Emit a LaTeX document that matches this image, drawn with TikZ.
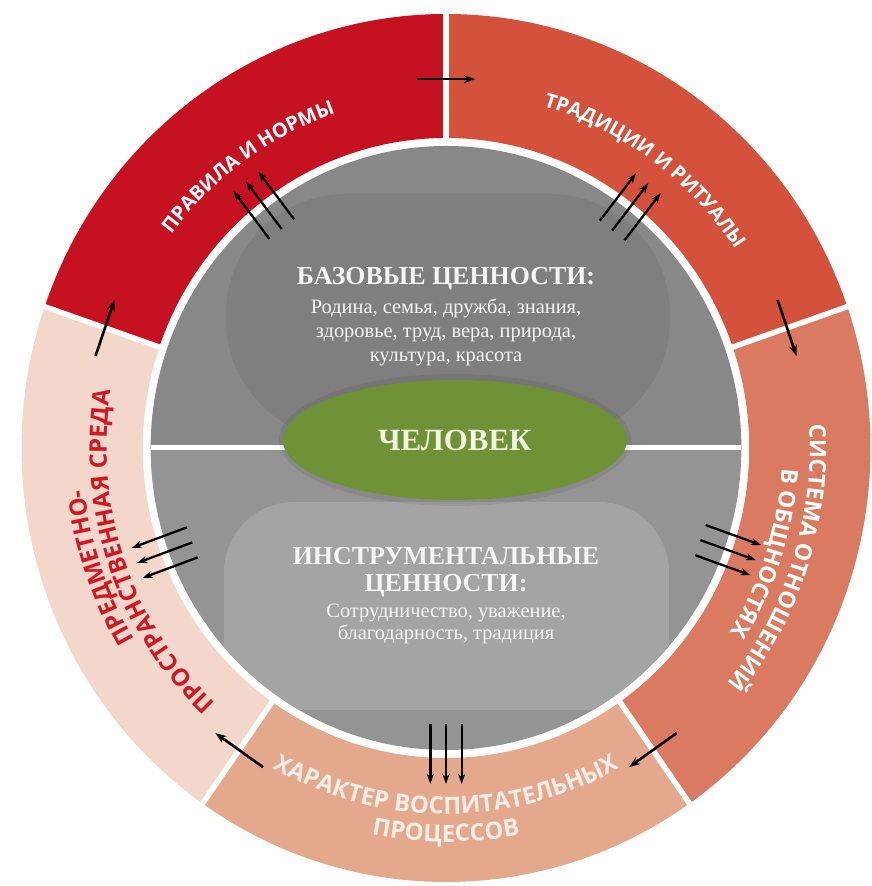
\documentclass[tikz,border=0pt]{standalone}
\usepackage{fontspec}
\setmainfont{Liberation Serif}
\newfontfamily\ringfont{Open Sans}
\usetikzlibrary{arrows.meta,decorations.text,calc,shapes.geometric}
\definecolor{cRed}{RGB}{198,18,32}
\definecolor{cTrad}{RGB}{212,82,60}
\definecolor{cSys}{RGB}{218,122,96}
\definecolor{cChar}{RGB}{228,168,141}
\definecolor{cEnv}{RGB}{242,215,202}
\definecolor{cEnvText}{RGB}{208,24,36}
\definecolor{gTop}{RGB}{136,136,136}
\definecolor{gTopBlob}{RGB}{127,127,127}
\definecolor{gBot}{RGB}{148,148,148}
\definecolor{gBotBlob}{RGB}{164,164,164}
\definecolor{cGreen}{RGB}{112,146,54}
\definecolor{cGreenText}{RGB}{240,246,226}
\definecolor{cBotText}{RGB}{252,238,230}
\definecolor{cInText}{RGB}{245,245,245}
\newcommand\ringA{\ringfont\bfseries\fontsize{20}{20}\selectfont\color{white}}
\newcommand\ringB{\ringfont\bfseries\fontsize{23}{23}\selectfont\color{white}}
\newcommand\ringC{\ringfont\bfseries\fontsize{24}{24}\selectfont\color{cBotText}}
\newcommand\ringD{\ringfont\bfseries\fontsize{24}{24}\selectfont\color{cEnvText}}
\newcommand\ringseg[3]{\fill[#3] (#1:310) arc[start angle=#1, end angle=#2, radius=310] -- (#2:434) arc[start angle=#2, end angle=#1, radius=434] -- cycle;}
\tikzset{
  arr/.style={line width=2.6bp, -{Stealth[length=11bp,width=8bp]}},
  arrt/.style={line width=2.3bp, -{Stealth[length=10bp,width=7bp]}},
  headtxt/.style={anchor=base, text=cInText, font=\bfseries\fontsize{26}{26}\selectfont, inner sep=0},
  bodytxt/.style={anchor=base, text=cInText, font=\fontsize{20.5}{20.5}\selectfont, inner sep=0},
}
\begin{document}
\begin{tikzpicture}[x=1bp,y=1bp]
\useasboundingbox (0,0) rectangle (872,886);
\fill[white] (0,0) rectangle (872,886);
\begin{scope}[shift={(446bp,438bp)}, x=0.978bp, y=1bp]
  % ring segments
  \ringseg{90}{161}{cRed}
  \ringseg{19}{90}{cTrad}
  \ringseg{-55}{19}{cSys}
  \ringseg{-125}{-55}{cChar}
  \ringseg{161}{235}{cEnv}
  \foreach \b in {90,19,-55,-125,161} \draw[white, line width=5.5bp] (\b:300) -- (\b:445);
  % gray disc
  \fill[gTop] (0:302) arc[start angle=0, end angle=180, radius=302] -- cycle;
  \fill[gBot] (180:302) arc[start angle=180, end angle=360, radius=302] -- cycle;
  \begin{scope}
    \clip (0,0) circle[radius=302];
    \fill[gTopBlob, rounded corners=120bp] (-225,8) rectangle (229,254);
    \fill[gBotBlob, rounded corners=70bp] (-227,-54) rectangle (228,-262);
  \end{scope}
  \draw[white, line width=5bp] (180:302) -- (0:302);
  % centre
  \fill[black, opacity=0.07] (9,8) ellipse[x radius=180, y radius=66];
  \node (man) [ellipse, fill=cGreen, minimum width=344bp, minimum height=120bp, inner sep=0,
     text=cGreenText, font=\bfseries\fontsize{31}{31}\selectfont] at (9,8) {ЧЕЛОВЕК};
  % upper texts
  \node (bh) [headtxt] at (0,163) {БАЗОВЫЕ ЦЕННОСТИ:};
  \node (b1) [bodytxt] at (0,134) {Родина, семья, дружба, знания,};
  \node (b2) [bodytxt] at (0,110) {здоровье, труд, вера, природа,};
  \node (b3) [bodytxt] at (0,86) {культура, красота};
  % lower texts
  \node (ih1) [headtxt] at (0,-117) {ИНСТРУМЕНТАЛЬНЫЕ};
  \node (ih2) [headtxt] at (0,-144) {ЦЕННОСТИ:};
  \node (i1) [bodytxt] at (0,-170) {Сотрудничество, уважение,};
  \node (i2) [bodytxt] at (0,-192) {благодарность, традиция};
  % ring texts
  \path[decorate, decoration={text along path, text align=center,
     text={|\ringA|ПРАВИЛА И НОРМЫ}}] (165:353) arc[start angle=165, end angle=86, radius=353];
  \path[decorate, decoration={text along path, text align=center,
     text={|\ringA|ТРАДИЦИИ И РИТУАЛЫ}}] (94:356) arc[start angle=94, end angle=14, radius=356];
  \path[decorate, decoration={text along path, text align=center,
     text={|\ringB|СИСТЕМА ОТНОШЕНИЙ}}] (22:372) arc[start angle=22, end angle=-58, radius=372];
  \path[decorate, decoration={text along path, text align=center,
     text={|\ringB|В ОБЩНОСТЯХ}}] (22:344) arc[start angle=22, end angle=-58, radius=344];
  \path[decorate, decoration={text along path, text align=center,
     text={|\ringC|ХАРАКТЕР ВОСПИТАТЕЛЬНЫХ}}] (225:366) arc[start angle=225, end angle=315, radius=366];
  \path[decorate, decoration={text along path, text align=center,
     text={|\ringC|ПРОЦЕССОВ}}] (240:394) arc[start angle=240, end angle=300, radius=394];
  \path[decorate, decoration={text along path, text align=left,
     text={|\ringD|ПРЕДМЕТНО{-}}}] (211:372) arc[start angle=211, end angle=150, radius=372];
  \path[decorate, decoration={text along path, text align=center,
     text={|\ringD|ПРОСТРАНСТВЕННАЯ СРЕДА}}] (239:347) arc[start angle=239, end angle=159, radius=347];
  % single arrows across boundaries
  \foreach \b [count=\i] in {90,19,-55,-125,161} {
    \coordinate (sa\i) at (\b+4.6:370);
    \coordinate (sb\i) at (\b-4.6:370);
    \draw[arr] (sa\i) -- (sb\i);
  }
  % triple arrows
  \foreach \a [count=\i] in {127.5,52,-19.5,200,-90} {
    \foreach \d [count=\j] in {-16,0,16} {
      \coordinate (ta\i\j) at ($(\a:276)+(\a+90:\d)$);
      \coordinate (tb\i\j) at ($(\a:336)+(\a+90:\d)$);
      \draw[arrt] (ta\i\j) -- (tb\i\j);
    }
  }
\end{scope}
\end{tikzpicture}
\end{document}
